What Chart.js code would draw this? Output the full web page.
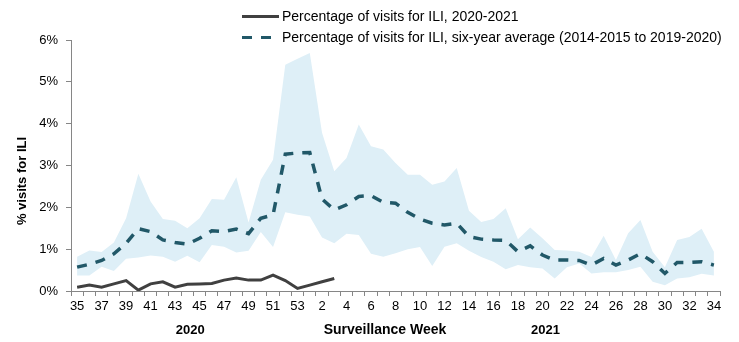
<!DOCTYPE html>
<html>
<head>
<meta charset="utf-8">
<script src="https://cdn.jsdelivr.net/npm/chart.js@4.4.1/dist/chart.umd.min.js"></script>
<style>
  html, body { margin: 0; padding: 0; background: #fff; }
  #wrap { width: 739px; height: 342px; }
</style>
</head>
<body>
<div id="wrap"><canvas id="iliChart" width="739" height="342"></canvas></div>
<script>
// -------- DATA --------
const weeks = [35, 36, 37, 38, 39, 40, 41, 42, 43, 44, 45, 46, 47, 48, 49, 50, 51, 52, 53,
    1, 2, 3, 4, 5, 6, 7, 8, 9, 10, 11, 12, 13, 14, 15, 16, 17, 18, 19, 20,
    21, 22, 23, 24, 25, 26, 27, 28, 29, 30, 31, 32, 33, 34];

// 2020-2021 season (reported through week 3)
const current = [0.09, 0.14, 0.09, 0.17, 0.25, 0.02, 0.17, 0.22, 0.09, 0.16, 0.17, 0.18, 0.26, 0.31,
    0.26, 0.26, 0.38, 0.25, 0.06, 0.14, 0.22, 0.30];

// six-year average
const average = [0.57, 0.64, 0.73, 0.89, 1.14, 1.49, 1.42, 1.22, 1.16, 1.12, 1.26, 1.44, 1.42, 1.48,
    1.37, 1.74, 1.82, 3.27, 3.30, 3.31, 2.20, 1.94, 2.06, 2.26, 2.28, 2.12, 2.10, 1.88, 1.72,
    1.62, 1.58, 1.62, 1.30, 1.24, 1.22, 1.21, 0.94, 1.08, 0.86, 0.74, 0.74, 0.73, 0.62, 0.78,
    0.62, 0.74, 0.89, 0.70, 0.42, 0.68, 0.68, 0.70, 0.62];

// range of the six seasons (shaded band)
const rangeHigh = [0.82, 0.97, 0.93, 1.16, 1.74, 2.80, 2.14, 1.72, 1.68, 1.50, 1.74, 2.20, 2.18, 2.72,
    1.64, 2.66, 3.14, 5.41, 5.55, 5.69, 3.78, 2.86, 3.18, 3.98, 3.46, 3.38, 3.06, 2.78, 2.78,
    2.54, 2.62, 2.94, 1.92, 1.65, 1.72, 1.98, 1.24, 1.52, 1.26, 0.98, 0.97, 0.94, 0.81, 1.32,
    0.74, 1.38, 1.70, 0.94, 0.57, 1.22, 1.29, 1.49, 0.94];

const rangeLow = [0.37, 0.37, 0.58, 0.48, 0.77, 0.80, 0.85, 0.82, 0.70, 0.84, 0.69, 1.10, 1.06, 0.92,
    0.96, 1.41, 1.05, 1.88, 1.82, 1.78, 1.28, 1.14, 1.37, 1.34, 0.89, 0.82, 0.90, 1.00, 1.05,
    0.60, 1.06, 1.14, 0.96, 0.81, 0.70, 0.52, 0.62, 0.57, 0.54, 0.30, 0.57, 0.66, 0.42, 0.45,
    0.45, 0.50, 0.58, 0.22, 0.14, 0.30, 0.33, 0.41, 0.37];

const yTicks = [0, 1, 2, 3, 4, 5, 6];

const legendLabels = [
    "Percentage of visits for ILI, 2020-2021",
    "Percentage of visits for ILI, six-year average (2014-2015 to 2019-2020)"
];
const yearLabels = ["2020", "2021"];

// -------- STYLE --------
const FONT = "'Liberation Sans', Arial, sans-serif";
const AXIS_GREY = "#868686";
const SOLID_COLOR = "#404040";
const DASH_COLOR = "#215868";
const BAND_COLOR = "rgb(222,239,247)";

// legend, axis titles and year labels drawn on the canvas
const extraText = {
    id: "extraText",
    afterDraw(chart) {
        const ctx = chart.ctx;
        const x = chart.scales.x;
        ctx.save();

        // legend
        ctx.lineWidth = 3;
        ctx.strokeStyle = SOLID_COLOR;
        ctx.beginPath();
        ctx.moveTo(242, 16.5);
        ctx.lineTo(279, 16.5);
        ctx.stroke();

        ctx.strokeStyle = DASH_COLOR;
        ctx.setLineDash([10, 9]);
        ctx.beginPath();
        ctx.moveTo(242, 37.5);
        ctx.lineTo(276, 37.5);
        ctx.stroke();
        ctx.setLineDash([]);

        ctx.fillStyle = "#000";
        ctx.font = "14px " + FONT;
        ctx.textAlign = "left";
        ctx.textBaseline = "middle";
        ctx.fillText(legendLabels[0], 282, 17);
        ctx.fillText(legendLabels[1], 282, 38);

        // x axis title and year labels under the week ticks
        ctx.textAlign = "center";
        ctx.font = "bold 14px " + FONT;
        ctx.fillText("Surveillance Week", 385, 330);
        ctx.font = "bold 13px " + FONT;
        ctx.fillText(yearLabels[0], x.getPixelForValue(9) + 3, 330);
        ctx.fillText(yearLabels[1], x.getPixelForValue(38) + 3, 330);

        // y axis title
        ctx.translate(22.5, 181);
        ctx.rotate(-Math.PI / 2);
        ctx.fillText("% visits for ILI", 0, 0);
        ctx.restore();
    }
};

document.addEventListener("DOMContentLoaded", () => {
    const ctx = document.getElementById("iliChart").getContext("2d");

    new Chart(ctx, {
        type: "line",
        data: {
            labels: weeks,
            datasets: [
                {
                    label: legendLabels[0],
                    data: current,
                    borderColor: SOLID_COLOR,
                    borderWidth: 3,
                    pointRadius: 0,
                    tension: 0,
                    order: 0
                },
                {
                    label: legendLabels[1],
                    data: average,
                    borderColor: DASH_COLOR,
                    borderWidth: 3.5,
                    borderDash: [10, 9],
                    pointRadius: 0,
                    tension: 0,
                    order: 1
                },
                {
                    label: "high",
                    data: rangeHigh,
                    borderWidth: 0,
                    borderColor: "rgba(0,0,0,0)",
                    backgroundColor: BAND_COLOR,
                    fill: "+1",
                    pointRadius: 0,
                    tension: 0,
                    order: 2
                },
                {
                    label: "low",
                    data: rangeLow,
                    borderWidth: 0,
                    borderColor: "rgba(0,0,0,0)",
                    fill: false,
                    pointRadius: 0,
                    tension: 0,
                    order: 3
                }
            ]
        },
        options: {
            responsive: false,
            animation: false,
            devicePixelRatio: 1,
            layout: { padding: { left: 0, right: 19, top: 40, bottom: 0 } },
            plugins: {
                legend: { display: false },
                tooltip: { enabled: false }
            },
            scales: {
                x: {
                    offset: true,
                    grid: {
                        offset: true,
                        drawOnChartArea: false,
                        drawTicks: true,
                        tickLength: 5,
                        color: AXIS_GREY
                    },
                    border: { color: AXIS_GREY, width: 1 },
                    ticks: {
                        autoSkip: false,
                        maxRotation: 0,
                        padding: 3,
                        color: "#000",
                        font: { family: FONT, size: 13 },
                        callback: function (value, index) {
                            return index % 2 === 0 ? String(weeks[index]) : "";
                        }
                    },
                    afterFit: scale => { scale.height = 51; }
                },
                y: {
                    min: 0,
                    max: 6,
                    afterBuildTicks: scale => {
                        scale.ticks = yTicks.map(v => ({ value: v }));
                    },
                    grid: {
                        drawOnChartArea: false,
                        drawTicks: true,
                        tickLength: 5,
                        color: AXIS_GREY
                    },
                    border: { color: AXIS_GREY, width: 1 },
                    ticks: {
                        padding: 8,
                        color: "#000",
                        font: { family: FONT, size: 13 },
                        callback: value => value + "%"
                    },
                    afterFit: scale => { scale.width = 71; }
                }
            }
        },
        plugins: [extraText]
    });
});
</script>
</body>
</html>
